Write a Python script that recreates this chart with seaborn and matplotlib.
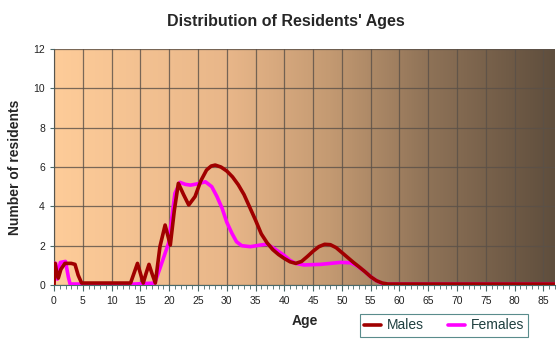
import numpy as np
import pandas as pd
import matplotlib
matplotlib.use("Agg")
import matplotlib.pyplot as plt
from matplotlib.colors import LinearSegmentedColormap
import seaborn as sns

# ages / counts
male_age = [0, 0.2, 0.45, 0.75, 1.2, 1.9, 3.0, 3.65, 4.2, 4.8, 8, 13.3, 13.9, 14.5, 15.0, 15.5,
            16.0, 16.5, 17.0, 17.6, 18.4, 19.3, 20.2, 20.9, 21.6, 22.5, 23.4, 24.5, 25.5, 26.5,
            27.3, 28.0, 29.0, 30.0, 31.0, 32.0, 33.0, 34.0, 35.0, 36.0, 37.0, 38.0, 39.0, 40.0,
            41.0, 42.0, 43.0, 44.0, 45.0, 46.0, 47.0, 48.0, 49.0, 50.0, 51.0, 52.0, 53.0, 54.0,
            55.0, 56.0, 57.0, 58.0, 65, 75, 87]
male_val = [0, 1.1, 0.7, 0.35, 0.8, 1.1, 1.1, 1.05, 0.5, 0.1, 0.1, 0.1, 0.6, 1.1, 0.6, 0.1,
            0.6, 1.05, 0.6, 0.1, 1.95, 3.05, 2.03, 3.8, 5.17, 4.6, 4.07, 4.5, 5.3, 5.85,
            6.05, 6.1, 6.0, 5.8, 5.5, 5.1, 4.6, 3.95, 3.3, 2.6, 2.15, 1.8, 1.55, 1.35,
            1.18, 1.1, 1.2, 1.45, 1.72, 1.95, 2.07, 2.05, 1.9, 1.65, 1.4, 1.15, 0.92, 0.68,
            0.42, 0.22, 0.1, 0.05, 0.05, 0.05, 0.05]

female_age = [0, 0.3, 0.6, 1.1, 2.0, 2.5, 2.8, 8, 14, 17.5, 18.4, 19.9, 21.0, 21.9, 22.8, 23.7,
              25.0, 26.3, 27.4, 28.3, 29.2, 30.0, 30.9, 31.7, 32.6, 34.1, 35.8, 37.0, 38.0,
              39.0, 40.0, 41.0, 42.0, 43.4, 46.3, 49.7, 51.5, 52.5, 53.2, 54.0, 55.0, 56.0,
              57.0, 58.0, 65, 75, 87]
female_val = [1.1, 1.1, 0.3, 1.15, 1.2, 0.4, 0.05, 0.05, 0.05, 0.1, 0.85, 2.13, 4.66, 5.22, 5.12, 5.08,
              5.15, 5.25, 5.0, 4.5, 3.9, 3.2, 2.63, 2.2, 2.0, 1.95, 2.03, 2.08, 1.9,
              1.7, 1.5, 1.25, 1.1, 1.02, 1.05, 1.15, 1.13, 1.0, 0.85, 0.68, 0.42, 0.22,
              0.08, 0.05, 0.05, 0.05, 0.05]

x_ticks = list(range(0, 90, 5))
y_ticks = list(range(0, 14, 2))

df = pd.concat([
    pd.DataFrame({"Age": male_age, "Residents": male_val, "Sex": "Males"}),
    pd.DataFrame({"Age": female_age, "Residents": female_val, "Sex": "Females"}),
])

sns.set_style("white")
plt.rcParams["font.family"] = ["Liberation Sans", "DejaVu Sans"]

fig = plt.figure(figsize=(5.6, 3.53), dpi=100)
ax = fig.add_axes([0.0964, 0.1926, 0.8946, 0.6684])

# background gradient
bg = LinearSegmentedColormap.from_list(
    "bg", [(0, "#FECC99"), (0.35, "#E8B689"), (0.55, "#C49A72"), (0.75, "#8E7257"), (1, "#5F4E3D")])
grad = np.linspace(0, 1, 256).reshape(1, -1)
ax.imshow(grad, cmap=bg, extent=[0, 87, 0, 12], aspect="auto", zorder=0)

sns.lineplot(data=df[df.Sex == "Females"], x="Age", y="Residents", color="#FF00FF",
             linewidth=2.6, ax=ax, zorder=3, label="Females", sort=False,
             solid_joinstyle="round", solid_capstyle="round")
sns.lineplot(data=df[df.Sex == "Males"], x="Age", y="Residents", color="#A00000",
             linewidth=2.6, ax=ax, zorder=4, label="Males", sort=False,
             solid_joinstyle="round", solid_capstyle="round")

ax.set_xlim(0, 87)
ax.set_ylim(0, 12)
ax.set_xticks(x_ticks)
ax.set_xticks(range(0, 88), minor=True)
ax.set_yticks(y_ticks)
ax.grid(True, color="#5a5048", linewidth=0.9, alpha=0.8, zorder=1)
ax.set_axisbelow(False)
for s in ["top", "right"]:
    ax.spines[s].set_visible(False)
for s in ["left", "bottom"]:
    ax.spines[s].set_color("#4a6a6a")
    ax.spines[s].set_linewidth(0.8)
ax.tick_params(axis="both", which="both", direction="out", colors="#4a6a6a", labelcolor="#222222",
               labelsize=7.5)
ax.tick_params(axis="x", which="major", length=4, bottom=True, pad=4)
ax.tick_params(axis="x", which="minor", length=3, bottom=True)
ax.tick_params(axis="y", which="major", length=3, left=True)

ax.set_xlabel("Age", fontsize=10, fontweight="bold", labelpad=6)
ax.set_ylabel("Number of residents", fontsize=10, fontweight="bold", labelpad=8)
fig.text(0.51, 0.94, "Distribution of Residents' Ages", ha="center", va="center",
         fontsize=11.5, fontweight="bold")

handles, labels = ax.get_legend_handles_labels()
ax.legend_.remove()
leg = fig.legend(handles[::-1], labels[::-1], loc="center", bbox_to_anchor=(0.793, 0.078),
                 ncol=2, frameon=True, fancybox=False, fontsize=10, handlelength=1.2,
                 handletextpad=0.4, columnspacing=1.8, borderpad=0.3)
leg.get_frame().set_edgecolor("#2f6f6f")
leg.get_frame().set_linewidth(0.8)
for t in leg.get_texts():
    t.set_color("#1f3f3f")

fig.savefig("out.png", dpi=100, facecolor="white")
